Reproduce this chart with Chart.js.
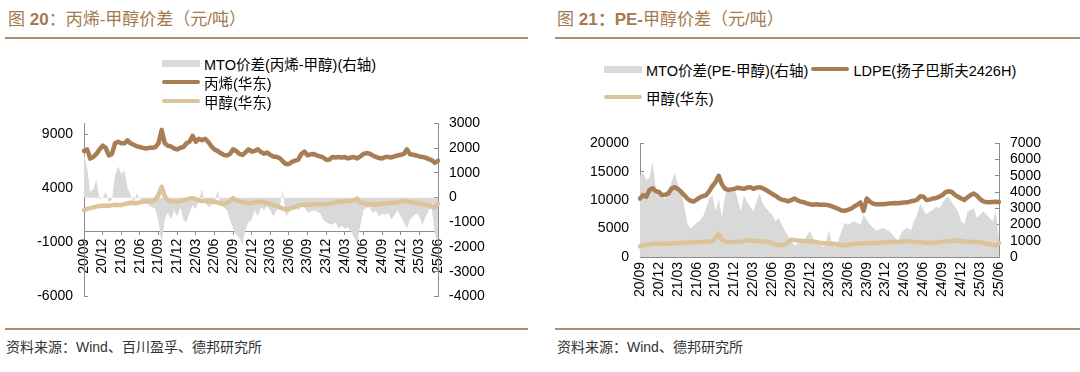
<!DOCTYPE html>
<html lang="zh-CN">
<head>
<meta charset="utf-8">
<title>MTO价差</title>
<script src="https://cdn.jsdelivr.net/npm/chart.js@4.4.1/dist/chart.umd.min.js"></script>
<style>
  html, body { margin: 0; padding: 0; background: #fff; }
  body {
    width: 1080px; height: 372px; position: relative; overflow: hidden;
    font-family: "Liberation Sans", "Noto Sans CJK SC", sans-serif; color: #000;
  }
  .title { position: absolute; top: 8px; font-size: 17px; line-height: 24px; color: #a5794e; white-space: nowrap; }
  .title b { font-family: "Liberation Sans", sans-serif; }
  .rule { position: absolute; height: 2px; background: #b08d6e; }
  .source { position: absolute; top: 338px; font-size: 14px; line-height: 18px; color: #333; white-space: nowrap; }
  .legend-item { position: absolute; display: flex; align-items: center; height: 18px; font-size: 14.5px; white-space: nowrap; }
  .swatch { display: inline-block; width: 38px; margin-right: 4px; }
  .swatch.area { height: 7px; background: #d9d9d9; }
  .swatch.line { height: 4px; border-radius: 2px; }
  canvas { position: absolute; }
</style>
</head>
<body>

<canvas id="propyleneChart" width="540" height="220" style="left:0; top:100px"></canvas>
<canvas id="peChart" width="540" height="200" style="left:540px; top:120px"></canvas>

<div class="title" style="left:8px">图 <b>20</b>：丙烯-甲醇价差（元/吨）</div>
<div class="rule" style="left:5px; top:37px; width:523px"></div>
<div class="legend-item" style="left:162px; top:54px"><span class="swatch area"></span>MTO价差(丙烯-甲醇)(右轴)</div>
<div class="legend-item" style="left:162px; top:73px"><span class="swatch line" style="background:#a87d54"></span>丙烯(华东)</div>
<div class="legend-item" style="left:162px; top:92px"><span class="swatch line" style="background:#dcc49a"></span>甲醇(华东)</div>
<div class="rule" style="left:5px; top:328px; width:523px"></div>
<div class="source" style="left:6px">资料来源：Wind、百川盈孚、德邦研究所</div>

<div class="title" style="left:557px">图 <b>21：PE-</b>甲醇价差（元/吨）</div>
<div class="rule" style="left:555px; top:37px; width:525px"></div>
<div class="legend-item" style="left:604px; top:60px">
  <span class="swatch area"></span>MTO价差(PE-甲醇)(右轴)
  <span class="swatch line" style="background:#a87d54; margin-left:3px"></span>LDPE(扬子巴斯夫2426H)
</div>
<div class="legend-item" style="left:604px; top:88px"><span class="swatch line" style="background:#dcc49a"></span>甲醇(华东)</div>
<div class="rule" style="left:555px; top:328px; width:525px"></div>
<div class="source" style="left:557px">资料来源：Wind、德邦研究所</div>

<script>
const tickLabels = ["20/09", "20/12", "21/03", "21/06", "21/09", "21/12", "22/03", "22/06", "22/09", "22/12",
  "23/03", "23/06", "23/09", "23/12", "24/03", "24/06", "24/09", "24/12", "25/03", "25/06"];
const POINTS_PER_QUARTER = 6;

// 图20
const propyleneEast = [
  7450, 7600, 6750, 6900, 7180, 7600,
  7940, 7740, 7040, 7180, 8160, 8300,
  8160, 8160, 8440, 8160, 8020, 7880,
  7820, 7740, 7680, 7740, 7740, 7820,
  8160, 9400, 8160, 7940, 7880, 7680,
  7600, 7740, 7820, 8160, 8300, 8860,
  8300, 8580, 8440, 8580, 8300, 7880,
  7600, 7460, 7260, 7090, 7040, 7180,
  7600, 7460, 7180, 7090, 7320, 7600,
  7400, 7460, 7600, 7350, 7200, 7300,
  7090, 6950, 6900, 6800, 6500, 6250,
  6250, 6450, 6550, 6650, 7180, 7400,
  7050, 7150, 7180, 7040, 6950, 6850,
  6650, 6650, 6900, 6850, 6900, 6850,
  6900, 6760, 6850, 6900, 6760, 6950,
  7180, 7260, 7200, 7040, 6900, 6800,
  6760, 6900, 6900, 6850, 6950, 7040,
  7100, 7180, 7600, 7150, 7100, 7040,
  6950, 6900, 6840, 6700, 6600, 6350,
  6550,
];
const methanolEastA = [
  1980, 2100, 2170, 2250, 2310, 2380,
  2400, 2420, 2400, 2450, 2480, 2470,
  2450, 2550, 2600, 2680, 2650, 2620,
  2700, 2760, 2780, 2800, 2820, 2960,
  3390, 4150, 3300, 2880, 2800, 2760,
  2780, 2820, 2900, 2960, 3050, 3100,
  3000, 2900, 2820, 2850, 2820, 2800,
  2760, 2700, 2600, 2540, 2650, 2820,
  3100, 2900, 2820, 2750, 2680, 2650,
  2610, 2700, 2760, 2760, 2700, 2650,
  2540, 2450, 2400, 2250, 2150, 2040,
  2100, 2200, 2300, 2400, 2450, 2480,
  2480, 2500, 2520, 2540, 2550, 2520,
  2540, 2560, 2650, 2700, 2760, 2760,
  2800, 2820, 2850, 2900, 3050, 2700,
  2650, 2540, 2540, 2520, 2500, 2550,
  2580, 2610, 2620, 2650, 2680, 2680,
  2750, 2820, 2820, 2750, 2700, 2650,
  2600, 2550, 2480, 2450, 2300, 2260,
  2600,
];
const mtoSpreadPropylene = [
  1770, 1216, 230, 350, 720, -80,
  -20, 230, -200, -80, 900, 1270,
  970, 1100, 400, 110, -200, 170,
  -30, -200, -150, -320, -390, -450,
  -1000, -1900, -900, -600, -880, -510,
  -760, -390, -880, -1000, -600, -320,
  -450, -140, 350, -200, -390, -300,
  -250, 290, -300, -390, -510, -880,
  -1250, -1500, -1620, -1900, -1300, -1000,
  -880, -510, -760, -390, -510, -350,
  -510, -760, -510, -450, 300, -760,
  -600, -450, -400, -510, -350, -400,
  -600, -560, -510, -560, -630, -880,
  -1000, -1060, -1100, -1000, -1250, -1150,
  -1250, -1200, -1370, -1620, -1850, -1120,
  -510, -400, -390, -630, -510, -760,
  -630, -700, -630, -880, -700, -510,
  -760, -1000, -1250, -880, -760, -630,
  -760, -1120, -760, -510, -390, -1500,
  -1750,
];
const propyleneLeftTicks = [-6000, -1000, 4000, 9000];

// 图21
const ldpeYangzi = [
  10300, 10890, 10600, 11800, 12100, 11600,
  11450, 10900, 10950, 11200, 12000, 12300,
  12000, 11500, 10900, 10300, 9900, 9740,
  10100, 10500, 10700, 10900, 11600, 12500,
  13200, 14300, 12800, 12000, 11800, 11900,
  12000, 12200, 12100, 12000, 12200, 12300,
  12000, 12200, 12300, 12100, 11800, 11450,
  11100, 10800, 10400, 10100, 10000, 9800,
  10000, 10300, 10000, 9750, 9650, 9450,
  9290, 9200, 9290, 9200, 9180, 9180,
  9100, 8900, 8700, 8450, 8200, 8150,
  8300, 8500, 8890, 9200, 9600, 8100,
  10300, 9740, 9400, 9290, 9300, 9290,
  9350, 9400, 9460, 9500, 9460, 9550,
  9600, 9630, 9800, 9900, 10100, 10700,
  10600, 10030, 10100, 10300, 10400, 10600,
  10900, 11400, 11570, 11450, 10950, 10600,
  10300, 10050, 10500, 10900, 11170, 10800,
  10200, 9800, 9650, 9630, 9700, 9740,
  9700,
];
const methanolEastB = [
  1880, 2050, 2150, 2220, 2280, 2320,
  2340, 2350, 2340, 2340, 2380, 2420,
  2450, 2450, 2500, 2560, 2620, 2640,
  2620, 2630, 2650, 2700, 2730, 2800,
  3360, 4050, 3000, 2750, 2620, 2620,
  2620, 2650, 2700, 2800, 3000, 2950,
  2850, 2800, 2790, 2750, 2700, 2620,
  2450, 2170, 2100, 2050, 2200, 2620,
  3050, 3000, 2900, 2850, 2800, 2790,
  2750, 2730, 2620, 2500, 2450, 2400,
  2380, 2340, 2300, 2200, 2050, 2050,
  2170, 2200, 2300, 2340, 2380, 2400,
  2420, 2450, 2450, 2450, 2500, 2550,
  2600, 2620, 2620, 2620, 2650, 2700,
  2760, 2790, 2750, 2650, 2620, 2600,
  2550, 2500, 2450, 2500, 2550, 2620,
  2700, 2750, 2790, 2850, 2900, 2880,
  2800, 2730, 2700, 2700, 2620, 2600,
  2550, 2500, 2340, 2250, 2100, 2050,
  2450,
];
const mtoSpreadPe = [
  5010, 5200, 4710, 4900, 5900, 4200,
  3810, 3700, 3610, 4100, 4600, 5200,
  4500, 4000, 3200, 2100, 1720, 1910,
  2100, 2250, 2500, 3000, 3600, 3810,
  2810, 3610, 2410, 3810, 4200, 4010,
  4200, 3610, 2810, 3810, 3410, 3100,
  2810, 3410, 3910, 3300, 3010, 2810,
  2610, 2210, 2410, 2000, 1610, 1300,
  1000, 720, 820, 900, 1010, 1300,
  1610, 1110, 950, 820, 620, 900,
  1610, 800, 620, 1010, 1600, 2110,
  2010, 2100, 2210, 2100, 2010, 2610,
  2310, 2000, 1810, 1610, 1700, 1810,
  1700, 1610, 1410, 1200, 1010, 1500,
  1700, 1810, 1610, 2200, 2610, 3310,
  2900, 2610, 2810, 2900, 3110, 3010,
  3300, 3610, 3710, 3410, 3100, 2810,
  2200, 2010, 2810, 2900, 3010, 2410,
  2600, 2810, 2610, 2400, 2210, 2810,
  1010,
];

const BROWN = "#a87d54";
const TAN = "#dcc49a";
const GREY_AREA = "#d9d9d9";
const AXIS_GREY = "#8c8c8c";
const TICK_FONT = { family: "'Liberation Sans', Arial, sans-serif", size: 14 };

function buildDateLabels() {
  const labels = [];
  tickLabels.forEach((label, k) => {
    labels.push(label);
    if (k < tickLabels.length - 1) {
      for (let j = 1; j < POINTS_PER_QUARTER; j++) labels.push("");
    }
  });
  return labels;
}

const dateLabels = buildDateLabels();

function lineDataset(label, data, color, order) {
  return {
    label, data, yAxisID: "y", order,
    borderColor: color, borderWidth: 4.5, borderCapStyle: "round", borderJoinStyle: "round",
    pointRadius: 0, tension: 0, fill: false,
  };
}

function areaDataset(label, data) {
  return {
    label, data, yAxisID: "y1", order: 3,
    backgroundColor: GREY_AREA, borderWidth: 0, pointRadius: 0, tension: 0, fill: "origin",
  };
}

function xAxis(extra) {
  return Object.assign({
    type: "category",
    offset: false,
    border: { color: AXIS_GREY, width: 1 },
    grid: {
      drawOnChartArea: false,
      tickColor: (ctx) => (dateLabels[ctx.index] ? AXIS_GREY : "rgba(0,0,0,0)"),
    },
    ticks: { autoSkip: false, minRotation: 90, maxRotation: 90, font: TICK_FONT, color: "#000" },
  }, extra);
}

function yAxis(position, width, extra, stepSize) {
  return Object.assign({
    position,
    afterFit: (scale) => { scale.width = width; },
    border: { color: AXIS_GREY, width: 1 },
    grid: { drawOnChartArea: false, tickLength: -4, tickColor: AXIS_GREY },
    ticks: {
      stepSize, autoSkip: false, padding: 15, font: TICK_FONT, color: "#000",
      callback: (value) => String(value),
    },
  }, extra);
}

function baseOptions(padding, scales) {
  return {
    responsive: false,
    animation: false,
    events: [],
    layout: { padding },
    plugins: { legend: { display: false }, tooltip: { enabled: false } },
    scales,
  };
}

function renderPropyleneChart() {
  const ctx = document.getElementById("propyleneChart").getContext("2d");
  const x = xAxis({ position: { y: 0 } });
  x.grid.tickLength = 3;
  x.ticks.padding = 4;
  new Chart(ctx, {
    type: "line",
    data: {
      labels: dateLabels,
      datasets: [
        areaDataset("MTO价差(丙烯-甲醇)(右轴)", mtoSpreadPropylene),
        lineDataset("丙烯(华东)", propyleneEast, BROWN, 1),
        lineDataset("甲醇(华东)", methanolEastA, TAN, 2),
      ],
    },
    options: baseOptions({ top: 15, bottom: 15.5, left: 0, right: 0 }, {
      x,
      y: yAxis("left", 84, {
        min: -6000, max: 10000,
        afterBuildTicks: (scale) => { scale.ticks = propyleneLeftTicks.map((value) => ({ value })); },
      }),
      y1: yAxis("right", 102, { min: -4000, max: 3000 }, 1000),
    }),
  });
}

function renderPeChart() {
  const ctx = document.getElementById("peChart").getContext("2d");
  const x = xAxis({ position: "bottom", afterFit: (scale) => { scale.height = 63; } });
  x.grid.tickLength = -4;
  x.ticks.padding = 9;
  new Chart(ctx, {
    type: "line",
    data: {
      labels: dateLabels,
      datasets: [
        areaDataset("MTO价差(PE-甲醇)(右轴)", mtoSpreadPe),
        lineDataset("LDPE(扬子巴斯夫2426H)", ldpeYangzi, BROWN, 1),
        lineDataset("甲醇(华东)", methanolEastB, TAN, 2),
      ],
    },
    options: baseOptions({ top: 20, bottom: 0, left: 0, right: 0 }, {
      x,
      y: yAxis("left", 100, { min: 0, max: 20000 }, 5000),
      y1: yAxis("right", 81, { min: 0, max: 7000 }, 1000),
    }),
  });
}

renderPropyleneChart();
renderPeChart();
</script>
</body>
</html>
